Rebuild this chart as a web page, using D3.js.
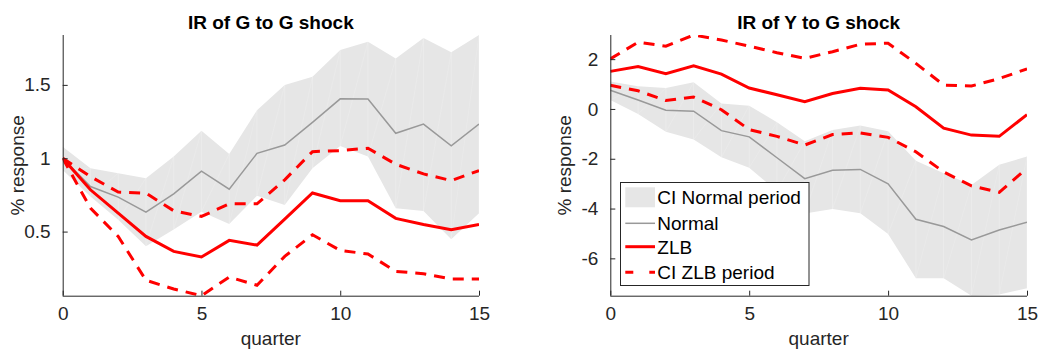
<!DOCTYPE html>
<html>
<head>
<meta charset="utf-8">
<script src="https://cdn.jsdelivr.net/npm/d3@7/dist/d3.min.js"></script>
<style>
  html, body { margin: 0; padding: 0; background: #fff; }
  svg { display: block; font-family: "Liberation Sans", Arial, sans-serif; }
</style>
</head>
<body>
<svg id="chart" width="1039" height="351"></svg>
<script>
// Horizon in quarters
const quarters = [0, 1, 2, 3, 4, 5, 6, 7, 8, 9, 10, 11, 12, 13, 14, 15];

// Response of G to a G shock (%)
const gNormal   = [1.0, 0.807, 0.735, 0.633, 0.757, 0.912, 0.789, 1.033, 1.09, 1.244, 1.405, 1.404, 1.17, 1.233, 1.084, 1.233];
const gNormalHi = [1.079, 0.932, 0.898, 0.864, 1.011, 1.188, 1.029, 1.327, 1.50, 1.556, 1.737, 1.794, 1.68, 1.82, 1.723, 1.84];
const gNormalLo = [0.92, 0.74, 0.58, 0.40, 0.514, 0.636, 0.552, 0.745, 0.682, 0.932, 1.084, 1.011, 0.659, 0.641, 0.448, 0.625];
const gZlb      = [1.0, 0.785, 0.626, 0.467, 0.365, 0.327, 0.44, 0.408, 0.585, 0.763, 0.71, 0.71, 0.59, 0.548, 0.512, 0.548];
const gZlbHi    = [1.0, 0.875, 0.769, 0.762, 0.642, 0.603, 0.689, 0.689, 0.853, 1.045, 1.052, 1.068, 0.959, 0.893, 0.848, 0.916];
const gZlbLo    = [1.0, 0.66, 0.467, 0.168, 0.109, 0.063, 0.19, 0.134, 0.331, 0.478, 0.372, 0.347, 0.229, 0.213, 0.177, 0.177];

// Response of Y to a G shock (%)
const yNormal   = [0.75, 0.36, -0.05, -0.09, -0.87, -1.12, -1.96, -2.80, -2.46, -2.43, -3.01, -4.43, -4.72, -5.26, -4.86, -4.55];
const yNormalHi = [1.10, 0.91, 0.84, 1.07, 0.22, 0.13, -0.53, -1.30, -0.85, -0.66, -0.90, -2.08, -2.58, -3.05, -2.24, -1.91];
const yNormalLo = [0.36, -0.20, -0.92, -1.23, -1.94, -2.36, -3.30, -4.20, -4.02, -4.19, -5.02, -6.80, -6.80, -7.50, -7.45, -7.20];
const yZlb      = [1.51, 1.70, 1.42, 1.73, 1.40, 0.84, 0.57, 0.29, 0.62, 0.83, 0.76, 0.09, -0.77, -1.05, -1.10, -0.23];
const yZlbHi    = [2.01, 2.68, 2.52, 2.97, 2.77, 2.52, 2.26, 2.03, 2.30, 2.60, 2.64, 1.83, 0.96, 0.92, 1.22, 1.61];
const yZlbLo    = [0.95, 0.73, 0.34, 0.48, -0.03, -0.83, -1.10, -1.45, -1.03, -0.96, -1.14, -1.72, -2.53, -3.09, -3.35, -2.38];

// Tick values and labels
const xTicks = [0, 5, 10, 15];
const gTicks = [0.5, 1, 1.5];
const gTickLabels = ["0.5", "1", "1.5"];
const yTicks = [-6, -4, -2, 0, 2];
const yTickLabels = ["-6", "-4", "-2", "0", "2"];

const legendLabels = ["CI Normal period", "Normal", "ZLB", "CI ZLB period"];

const AXIS = "#262626";
const SHADE = "#e6e6e6";
const GREY = "#999999";
const RED = "#ff0000";
const FONT = 19;

const svg = d3.select("#chart");

function panel(opts) {
  const { left, right, top, bottom, title, normal, hi, lo, zlb, zHi, zLo, ticks, tickLabels } = opts;
  const all = [].concat(normal, hi, lo, zlb, zHi, zLo);
  const x = d3.scaleLinear().domain(d3.extent(quarters)).range([left, right]);
  const y = d3.scaleLinear().domain(d3.extent(all)).range([bottom, top]);
  const g = svg.append("g");

  const clipId = "clip" + Math.round(left);
  svg.append("clipPath").attr("id", clipId)
    .append("rect").attr("x", left).attr("y", top)
    .attr("width", right - left).attr("height", bottom - top);

  const plot = g.append("g").attr("clip-path", `url(#${clipId})`);

  // Confidence band of the normal period
  const band = d3.area()
    .x((d, i) => x(quarters[i]))
    .y0((d, i) => y(lo[i]))
    .y1((d, i) => y(hi[i]));
  plot.append("path").datum(hi).attr("d", band).attr("fill", SHADE).attr("stroke", "none");

  // faint seams of the filled band
  quarters.forEach((q, i) => {
    plot.append("line")
      .attr("x1", x(q)).attr("x2", x(q))
      .attr("y1", y(hi[i])).attr("y2", y(lo[i]))
      .attr("stroke", "#fff").attr("stroke-opacity", 0.4).attr("stroke-width", 0.6);
    if (i < quarters.length - 1) {
      plot.append("line")
        .attr("x1", x(q)).attr("y1", y(lo[i]))
        .attr("x2", x(quarters[i + 1])).attr("y2", y(hi[i + 1]))
        .attr("stroke", "#fff").attr("stroke-opacity", 0.25).attr("stroke-width", 0.6);
    }
  });

  const line = d3.line().x((d, i) => x(quarters[i])).y(d => y(d));

  plot.append("path").datum(normal).attr("d", line)
    .attr("fill", "none").attr("stroke", GREY).attr("stroke-width", 1.5);
  plot.append("path").datum(zlb).attr("d", line)
    .attr("fill", "none").attr("stroke", RED).attr("stroke-width", 3);
  [zHi, zLo].forEach(s => {
    plot.append("path").datum(s).attr("d", line)
      .attr("fill", "none").attr("stroke", RED).attr("stroke-width", 3)
      .attr("stroke-dasharray", "11,8");
  });

  // Axes with inward ticks
  const xAxis = d3.axisBottom(x).tickValues(xTicks).tickSize(-5).tickPadding(11)
    .tickFormat(d3.format("d"));
  const gx = g.append("g").attr("transform", `translate(0,${bottom})`).call(xAxis);
  const yAxis = d3.axisLeft(y).tickValues(ticks).tickSize(-5).tickPadding(12)
    .tickFormat((d, i) => tickLabels[i]);
  const gy = g.append("g").attr("transform", `translate(${left},0)`).call(yAxis);
  [gx, gy].forEach(a => {
    a.select(".domain").attr("stroke", AXIS).attr("stroke-width", 1)
      .attr("d", a === gx ? `M${left},0.5H${right}` : `M0.5,${top}V${bottom}`);
    a.selectAll(".tick line").attr("stroke", AXIS);
    a.selectAll(".tick text").attr("fill", AXIS).style("font-size", FONT + "px")
      .style("font-family", '"Liberation Sans", Arial, sans-serif');
  });
  gx.selectAll(".tick text").attr("dy", "0.72em");

  // Title and axis labels
  g.append("text").attr("x", (left + right) / 2).attr("y", 29)
    .attr("text-anchor", "middle").attr("font-weight", "bold")
    .attr("font-size", FONT).attr("fill", "#000").text(title);
  g.append("text").attr("x", (left + right) / 2).attr("y", 345)
    .attr("text-anchor", "middle").attr("font-size", FONT).attr("fill", AXIS).text("quarter");
  g.append("text")
    .attr("transform", `translate(${left - 39},${(top + bottom) / 2}) rotate(-90)`)
    .attr("text-anchor", "middle").attr("font-size", FONT).attr("fill", AXIS).text("% response");

  return { x, y, g };
}

const plotTop = 35, plotBottom = 295.7;

panel({
  left: 62.7, right: 479, top: plotTop, bottom: plotBottom,
  title: "IR of G to G shock",
  normal: gNormal, hi: gNormalHi, lo: gNormalLo,
  zlb: gZlb, zHi: gZlbHi, zLo: gZlbLo,
  ticks: gTicks, tickLabels: gTickLabels
});

const rightPanel = panel({
  left: 610.3, right: 1027, top: plotTop, bottom: plotBottom,
  title: "IR of Y to G shock",
  normal: yNormal, hi: yNormalHi, lo: yNormalLo,
  zlb: yZlb, zHi: yZlbHi, zLo: yZlbLo,
  ticks: yTicks, tickLabels: yTickLabels
});

// Legend in the lower left of the second panel
const lg = rightPanel.g.append("g");
const lx = 620.5, ly = 182.5, lw = 188.5, lh = 103;
lg.append("rect").attr("x", lx).attr("y", ly).attr("width", lw).attr("height", lh)
  .attr("fill", "#fff").attr("stroke", AXIS).attr("stroke-width", 1);
const rowY = [197, 223.3, 246.7, 272.3];
const sx0 = 625.3, sx1 = 655, tx = 657.3;
lg.append("rect").attr("x", sx0).attr("y", 187.3).attr("width", sx1 - sx0).attr("height", 20)
  .attr("fill", SHADE);
lg.append("line").attr("x1", sx0).attr("x2", sx1).attr("y1", rowY[1]).attr("y2", rowY[1])
  .attr("stroke", GREY).attr("stroke-width", 1.5);
lg.append("line").attr("x1", sx0).attr("x2", sx1).attr("y1", rowY[2]).attr("y2", rowY[2])
  .attr("stroke", RED).attr("stroke-width", 3);
lg.append("line").attr("x1", sx0).attr("x2", sx1).attr("y1", rowY[3]).attr("y2", rowY[3])
  .attr("stroke", RED).attr("stroke-width", 3).attr("stroke-dasharray", "8,16");
legendLabels.forEach((t, i) => {
  lg.append("text").attr("x", tx).attr("y", rowY[i]).attr("dy", "0.36em")
    .attr("font-size", FONT).attr("fill", "#000").text(t);
});
</script>
</body>
</html>
